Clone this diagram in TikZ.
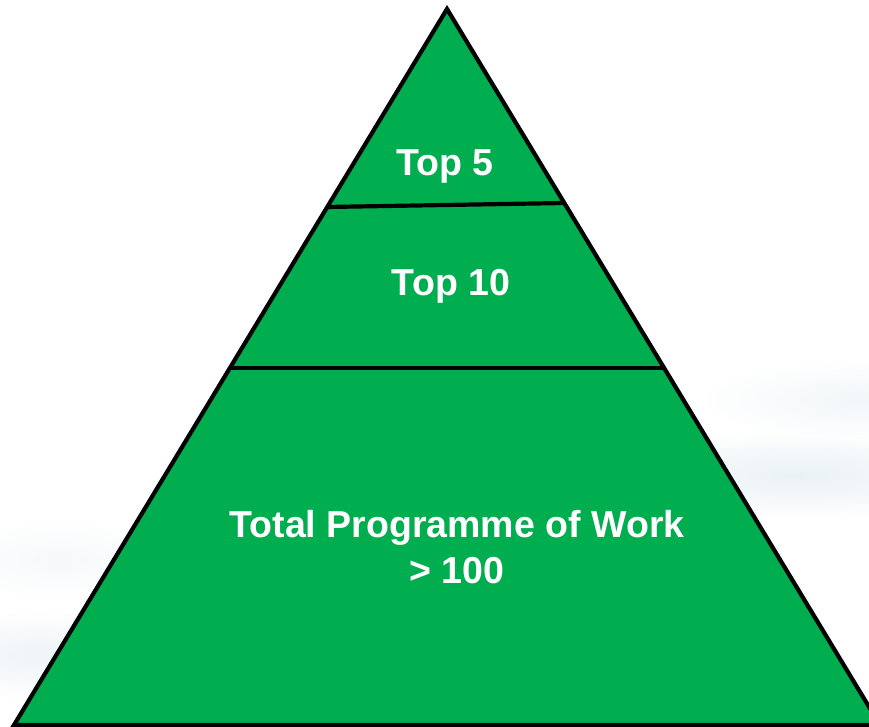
\documentclass[tikz,border=0pt]{standalone}
\usepackage{fontspec}
\setmainfont{Liberation Sans}
\definecolor{pyrgreen}{HTML}{00AE50}
\definecolor{skyblue}{HTML}{DCE9F0}
\begin{document}
\begin{tikzpicture}[x=1pt,y=-1pt,
  layer/.style={fill=pyrgreen},
  edge/.style={draw=black,line width=4.2pt,line join=miter},
  label/.style={text=white,font=\bfseries\fontsize{37.5}{46}\selectfont,align=center,inner sep=0pt}]
\useasboundingbox (0,0) rectangle (869,727);
\fill[white] (0,0) rectangle (869,727);
\begin{scope}
\clip (0,0) rectangle (869,727);
% faint cloudy background
\shade[inner color=skyblue,outer color=white,opacity=0.6] (800,475) ellipse (220 and 45);
\shade[inner color=skyblue!70,outer color=white,opacity=0.5] (860,400) ellipse (160 and 40);
\shade[inner color=skyblue!80,outer color=white,opacity=0.6] (40,655) ellipse (150 and 45);
\shade[inner color=skyblue!50,outer color=white,opacity=0.5] (60,560) ellipse (120 and 40);
% pyramid
\coordinate (apex) at (447,9);
\coordinate (bl) at (14,725);
\coordinate (br) at (880,725);
\coordinate (l1) at (327,207);
\coordinate (r1) at (564,203);
\coordinate (l2) at (230,368);
\coordinate (r2) at (664,368);
\fill[layer] (apex) -- (br) -- (bl) -- cycle;
\draw[edge] (apex) -- (br) -- (bl) -- cycle;
\draw[edge] (l1) -- (r1);
\draw[edge] (l2) -- (r2);
\end{scope}
\node[label] (t5) at (445,166) {Top 5};
\node[label] (t10) at (451,286) {Top 10};
\node[label] (tot) at (457,547) {Total Programme of Work\\{>} 100};
\end{tikzpicture}
\end{document}
